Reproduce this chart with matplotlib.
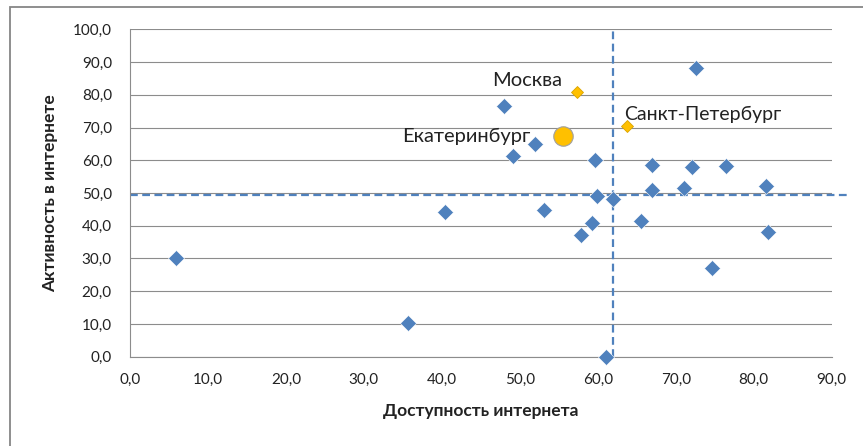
import numpy as np
import matplotlib
matplotlib.use("Agg")
import matplotlib.pyplot as plt
from matplotlib.patches import Rectangle
from matplotlib.ticker import FuncFormatter, MultipleLocator

plt.rcParams['font.family'] = ['Lato', 'Open Sans', 'DejaVu Sans']

# regions: internet availability (x) vs internet activity (y)
access = [5.9, 35.6, 40.4, 48.0, 49.1, 51.9, 53.1, 57.8, 59.2, 59.6, 59.9, 61.1,
          62.0, 65.6, 67.0, 67.0, 71.0, 72.1, 72.6, 74.6, 76.5, 81.6, 81.8]
activity = [30.3, 10.2, 44.2, 76.6, 61.4, 65.1, 44.9, 37.1, 40.9, 60.0, 49.1, 0.0,
            48.2, 41.4, 58.6, 50.9, 51.5, 57.8, 88.3, 27.1, 58.2, 52.2, 38.2]

# highlighted cities
cities = ["Москва", "Санкт-Петербург", "Екатеринбург"]
city_access = [57.4, 63.8, 55.6]
city_activity = [80.9, 70.5, 67.4]

# averages drawn as dashed guide lines
mean_access = 61.9
mean_activity = 49.3

blue = '#4F81BD'
gold = '#FFC000'
grid_col = '#8C8C8C'

fig = plt.figure(figsize=(8.63, 4.46), dpi=100)
ax = fig.add_axes([0.1506, 0.2002, 0.9637 - 0.1506, 0.9343 - 0.2002])

# outer chart frame, running off the right and bottom edges
frame_top = 1 - 7 / 446
fig.add_artist(Rectangle((10 / 863, -0.2), 1.2, frame_top + 0.2,
                         transform=fig.transFigure, fill=False,
                         edgecolor='#868686', lw=1.3))

ax.set_xlim(0, 90)
ax.set_ylim(0, 100)
ax.xaxis.set_major_locator(MultipleLocator(10))
ax.yaxis.set_major_locator(MultipleLocator(10))
fmt = FuncFormatter(lambda v, p: f"{v:.1f}".replace('.', ','))
ax.xaxis.set_major_formatter(fmt)
ax.yaxis.set_major_formatter(fmt)
ax.tick_params(length=0, labelsize=11, colors='#222222')
ax.tick_params(axis='y', pad=13)
ax.tick_params(axis='x', pad=12)
ax.grid(axis='y', color=grid_col, lw=0.8)
ax.set_axisbelow(True)
for side in ['top', 'right']:
    ax.spines[side].set_visible(False)
for side in ['left', 'bottom']:
    ax.spines[side].set_color(grid_col)
    ax.spines[side].set_linewidth(0.8)

ax.plot(access, activity, 'D', color=blue, markersize=8.5,
        markeredgecolor='white', markeredgewidth=0.4, clip_on=False, zorder=3)

# average lines
ax.plot([0, 92], [mean_activity, mean_activity], '--', color=blue, lw=1.6,
        dashes=(3.5, 2), clip_on=False, zorder=2)
ax.plot([mean_access, mean_access], [0, 100], '--', color=blue, lw=1.6,
        dashes=(3.5, 2), clip_on=False, zorder=2)

# cities: two diamonds and one circle
ax.plot(city_access[:2], city_activity[:2], 'D', color=gold, markersize=5.8,
        markeredgecolor='#D9A300', markeredgewidth=0.6, zorder=4)
ax.plot(city_access[2], city_activity[2], 'o', color=gold, markersize=14,
        markeredgecolor='#A0A0A0', markeredgewidth=0.8, zorder=4)

ax.annotate(cities[0], (city_access[0], city_activity[0]), xytext=(-11, 8),
            textcoords='offset points', ha='right', va='center', fontsize=14.5,
            color='#222222')
ax.annotate(cities[1], (city_access[1], city_activity[1]), xytext=(-2, 8),
            textcoords='offset points', ha='left', va='center', fontsize=14,
            color='#222222')
ax.annotate(cities[2], (city_access[2], city_activity[2]), xytext=(-24, 0),
            textcoords='offset points', ha='right', va='center', fontsize=14.5,
            color='#222222')

ax.set_xlabel("Доступность интернета", fontsize=12.5, fontweight='bold',
              labelpad=11, color='#222222')
ax.set_ylabel("Активность в интернете", fontsize=12.5, fontweight='bold',
              labelpad=11, color='#222222')

fig.savefig("out.png", dpi=100)
